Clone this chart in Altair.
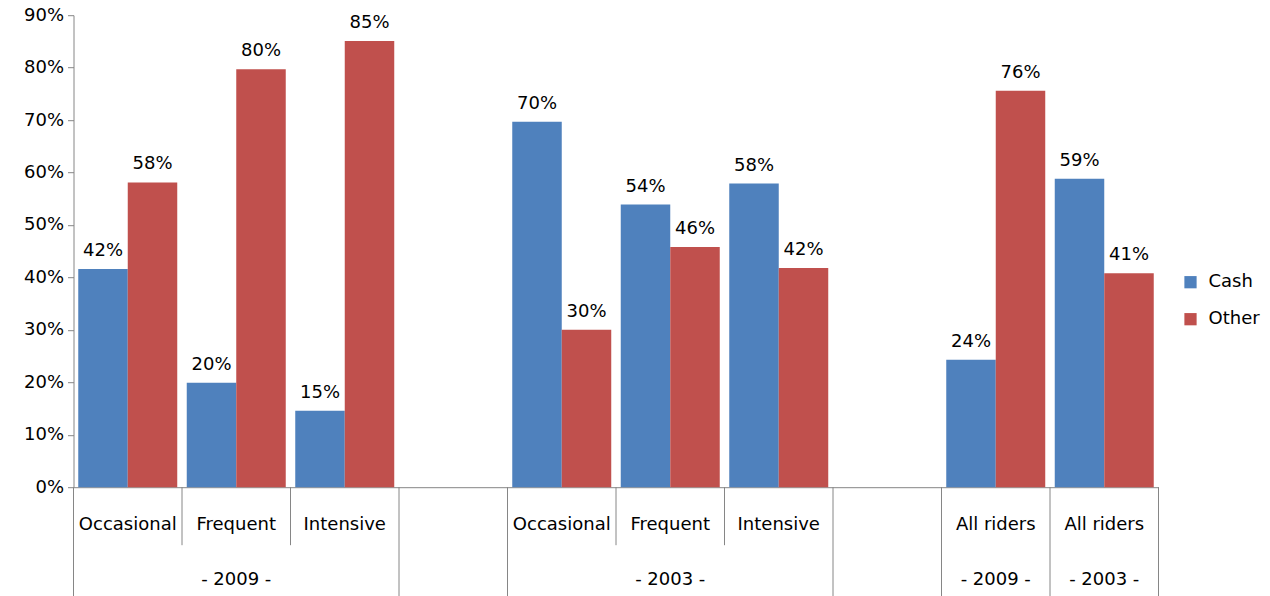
import altair as alt
import pandas as pd

FONT = "DejaVu Sans"
FS = 18
BLUE = "#4F81BD"
RED = "#C0504D"
GRAY = "#868686"

# Category slots along the x axis (two empty slots act as spacers)
slots = ["s0", "s1", "s2", "s3", "s4", "s5", "s6", "s7", "s8", "s9"]
slot_labels = ["Occasional", "Frequent", "Intensive", "",
               "Occasional", "Frequent", "Intensive", "",
               "All riders", "All riders"]

# Share of trips paid by each method
cash = [0.416, 0.199, 0.146, None, 0.697, 0.539, 0.579, None, 0.243, 0.588]
other = [0.581, 0.797, 0.851, None, 0.300, 0.458, 0.418, None, 0.756, 0.408]

# Second-level (year) labels, each sitting under the middle slot of its group
group_labels = ["- 2009 -", "- 2003 -", "- 2009 -", "- 2003 -"]
group_center_slot = ["s1", "s5", "s8", "s9"]

# Separators under the axis: short ones between categories of a group,
# long ones between groups
inner_edges = ["s1", "s2", "s5", "s6"]
group_edges = ["s0", "s3", "s4", "s7", "s8", "s9"]
last_slot = ["s9"]

series = ["Cash", "Other"]

rows = []
for s, c, o in zip(slots, cash, other):
    if c is not None:
        rows.append({"slot": s, "series": "Cash", "value": c})
    if o is not None:
        rows.append({"slot": s, "series": "Other", "value": o})
bars_df = pd.DataFrame(rows)

xscale = alt.Scale(domain=slots, paddingInner=0, paddingOuter=0)
offset_scale = alt.Scale(domain=series, paddingInner=0, paddingOuter=0.096)

# Same x axis in every layer so the merged axis keeps its domain line
x_axis = alt.Axis(title=None, labels=False, ticks=False, domain=True,
                  domainColor=GRAY, domainWidth=1, grid=False)

base = alt.Chart(bars_df).encode(
    x=alt.X("slot:N", scale=xscale, axis=x_axis),
    xOffset=alt.XOffset("series:N", scale=offset_scale),
    y=alt.Y("value:Q", scale=alt.Scale(domain=[0, 0.9], nice=False),
            axis=alt.Axis(title=None, format=".0%",
                          values=[0, 0.1, 0.2, 0.3, 0.4, 0.5, 0.6, 0.7, 0.8, 0.9],
                          grid=False, domainColor=GRAY, tickColor=GRAY,
                          tickSize=6, labelPadding=4, labelFont=FONT,
                          labelFontSize=FS, labelColor="black")),
)

bars = base.mark_bar().encode(
    color=alt.Color("series:N",
                    scale=alt.Scale(domain=series, range=[BLUE, RED]),
                    legend=alt.Legend(title=None, orient="none",
                                      legendX=1108, legendY=258,
                                      symbolType="square", symbolSize=150,
                                      symbolStrokeWidth=0,
                                      labelFont=FONT, labelFontSize=FS,
                                      labelColor="black", labelOffset=9,
                                      rowPadding=19)),
)

value_labels = base.mark_text(font=FONT, fontSize=FS, baseline="alphabetic",
                              dy=-13, color="black").encode(
    text=alt.Text("value:Q", format=".0%"),
)

inner_rules = alt.Chart(pd.DataFrame({"slot": inner_edges})).mark_rule(
    color=GRAY, strokeWidth=1).encode(
    x=alt.X("slot:N", bandPosition=0, scale=xscale, axis=x_axis),
    y=alt.value(472), y2=alt.value(530),
)

group_rules = alt.Chart(pd.DataFrame({"slot": group_edges})).mark_rule(
    color=GRAY, strokeWidth=1).encode(
    x=alt.X("slot:N", bandPosition=0, scale=xscale, axis=x_axis),
    y=alt.value(472), y2=alt.value(581),
)

end_rule = alt.Chart(pd.DataFrame({"slot": last_slot})).mark_rule(
    color=GRAY, strokeWidth=1).encode(
    x=alt.X("slot:N", bandPosition=1, scale=xscale, axis=x_axis),
    y=alt.value(472), y2=alt.value(581),
)

cat_text = alt.Chart(pd.DataFrame({"slot": slots, "label": slot_labels})).mark_text(
    font=FONT, fontSize=FS, baseline="middle", color="black").encode(
    x=alt.X("slot:N", scale=xscale, axis=x_axis),
    y=alt.value(510),
    text="label:N",
)

group_text = alt.Chart(pd.DataFrame({"slot": group_center_slot,
                                     "label": group_labels})).mark_text(
    font=FONT, fontSize=FS, baseline="middle", color="black").encode(
    x=alt.X("slot:N", scale=xscale, axis=x_axis),
    y=alt.value(565),
    text="label:N",
)

chart = alt.layer(
    bars, value_labels, inner_rules, group_rules, end_rule, cat_text, group_text
).properties(
    width=1085,
    height=472,
    padding={"left": 73.5, "top": 15.2, "right": 111.5, "bottom": 108.8},
    autosize=alt.AutoSizeParams(type="none"),
).configure(
    background="white",
    view=alt.ViewConfig(stroke=None),
)

chart.save("out.html", embed_options={"renderer": "svg", "actions": False})
